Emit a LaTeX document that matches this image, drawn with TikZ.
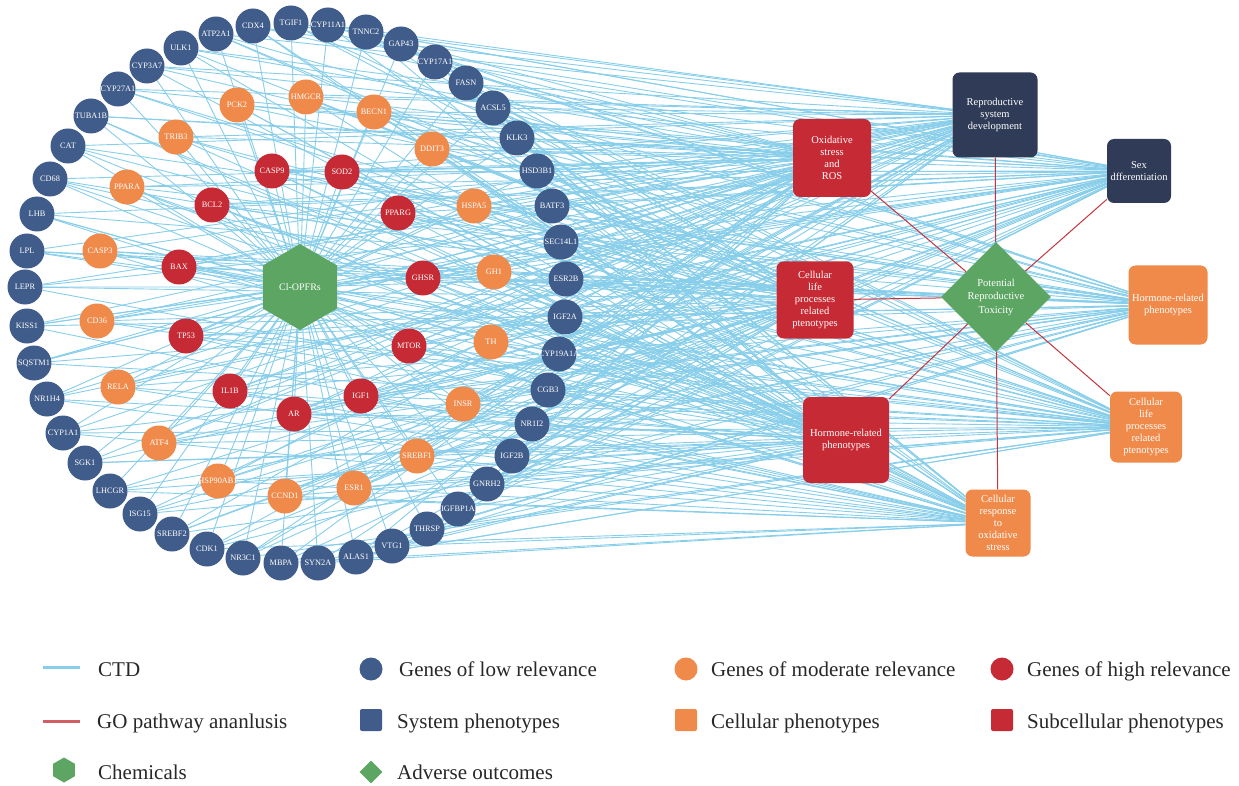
\documentclass[tikz,border=0pt]{standalone}
\usepackage{fontspec}
\setmainfont{Liberation Serif}
\usetikzlibrary{shapes.geometric}

\pgfdeclarelayer{bg}
\pgfsetlayers{bg,main}

\definecolor{lowblue}{RGB}{64,92,138}
\definecolor{modorange}{RGB}{240,138,74}
\definecolor{highred}{RGB}{198,42,52}
\definecolor{chemgreen}{RGB}{92,165,99}
\definecolor{navy}{RGB}{47,59,87}
\definecolor{ctdblue}{RGB}{135,206,235}
\definecolor{gored}{RGB}{200,52,62}
\definecolor{legtextcol}{RGB}{40,40,40}

\tikzset{
  gene/.style={circle, minimum size=35pt, inner sep=0pt, text=white,
    font=\fontsize{8.3}{9}\selectfont},
  lowgene/.style={gene, fill=lowblue},
  modgene/.style={gene, fill=modorange},
  highgene/.style={gene, fill=highred},
  pheno/.style={rounded corners=7pt, inner sep=0pt, text=white, align=center,
    font=\fontsize{10.5}{12.2}\selectfont},
  ctd/.style={draw=ctdblue, line width=0.9pt},
  golink/.style={draw=gored, line width=1pt},
  legtext/.style={anchor=base west, inner sep=0pt, text=legtextcol,
    font=\fontsize{21}{24}\selectfont}
}

% blue CTD links of one gene: name, count, threshold
\newcommand{\ctdlinks}[3]{%
  \begin{pgfonlayer}{bg}
    \draw[ctd] (chem) -- (#1);
    \foreach \p [count=\j] in {ros,rsd,sexd,clpr,hrmo,hrmr,clpo,cros} {
      \pgfmathtruncatemacro{\k}{mod(3*#2+5*\j,8)}
      \ifnum\k<#3 \draw[ctd] (#1) -- (\p);\fi
    }
  \end{pgfonlayer}}

\begin{document}
\begin{tikzpicture}[x=1pt,y=-1pt]
\useasboundingbox (0,0) rectangle (1239,786);
\begin{pgfonlayer}{bg}
\fill[white] (0,0) rectangle (1239,786);
\end{pgfonlayer}

% chemical and outcomes
\node[regular polygon, regular polygon sides=6, shape border rotate=30, fill=chemgreen,
  minimum size=86pt, inner sep=0pt, text=white, font=\fontsize{10}{12}\selectfont]
  (chem) at (300,287) {Cl-OPFRs};
\node[diamond, fill=chemgreen, minimum size=110pt, inner sep=0pt, text=white, align=center,
  font=\fontsize{10.5}{13.5}\selectfont] (tox) at (996,297) {Potential\\Reproductive\\Toxicity};

% phenotypes
\node[pheno, fill=highred, minimum width=78pt, minimum height=78pt] (ros) at (832,158) {Oxidative\\stress\\and\\ROS};
\node[pheno, fill=navy, minimum width=85pt, minimum height=85pt] (rsd) at (995,115) {Reproductive\\system\\development};
\node[pheno, fill=navy, minimum width=64pt, minimum height=64pt] (sexd) at (1139,171) {Sex\\dfferentiation};
\node[pheno, fill=highred, minimum width=77pt, minimum height=77pt] (clpr) at (815,300) {Cellular\\life\\processes\\related\\ptenotypes};
\node[pheno, fill=modorange, minimum width=79pt, minimum height=79pt] (hrmo) at (1168,305) {Hormone-related\\phenotypes};
\node[pheno, fill=highred, minimum width=86pt, minimum height=86pt] (hrmr) at (846,440) {Hormone-related\\phenotypes};
\node[pheno, fill=modorange, minimum width=72pt, minimum height=71pt] (clpo) at (1146,427) {Cellular\\life\\processes\\related\\ptenotypes};
\node[pheno, fill=modorange, minimum width=65pt, minimum height=67pt] (cros) at (998,523) {Cellular\\response\\to\\oxidative\\stress};

% genes of low relevance (outer ring)
\foreach \g/\x/\y [count=\i] in {CDX4/253/26, TGIF1/291/23, CYP11A1/328/25, TNNC2/366/32,
  GAP43/401/44, CYP17A1/435/62, FASN/466/83, ACSL5/493/108, KLK3/517/138, HSD3B1/537/171,
  BATF3/552/206, SEC14L1/561/242, ESR2B/566/279, IGF2A/565/317, CYP19A1A/559/354,
  CGB3/548/390, NR1I2/532/424, IGF2B/512/456, GNRH2/487/484, IGFBP1A/458/509,
  THRSP/427/529, VTG1/392/546, ALAS1/356/557, SYN2A/318/563, MBPA/281/563,
  NR3C1/243/558, CDK1/207/549, SREBF2/172/534, ISG15/140/514, LHCGR/110/491,
  SGK1/85/463, CYP1A1/63/433, NR1H4/47/399, SQSTM1/34/363, KISS1/27/326, LEPR/25/287,
  LPL/27/251, LHB/37/214, CD68/50/179, CAT/68/146, TUBA1B/91/116, CYP27A1/118/89,
  CYP3A7/147/66, ULK1/181/48, ATP2A1/216/34} {
  \node[lowgene] (\g) at (\x,\y) {\makebox[0pt]{\g}};
  \ctdlinks{\g}{\i}{4}
}

% genes of moderate relevance
\foreach \g/\x/\y [count=\i] in {PCK2/237/105, HMGCR/306/97, BECN1/374/112, DDIT3/432/149,
  HSPA5/474/206, GH1/494/272, TH/491/342, INSR/463/404, SREBF1/417/456, ESR1/354/488,
  CCND1/285/496, HSP90AB1/218/481, ATF4/159/443, RELA/118/387, CD36/97/321,
  CASP3/100/251, PPARA/127/187, TRIB3/176/137} {
  \node[modgene] (\g) at (\x,\y) {\makebox[0pt]{\g}};
  \ctdlinks{\g}{\i}{5}
}

% genes of high relevance
\foreach \g/\x/\y [count=\i] in {CASP9/272/171, SOD2/342/172, PPARG/398/213, BCL2/212/205,
  BAX/179/267, GHSR/423/278, MTOR/409/346, TP53/186/336, IL1B/230/391, AR/294/414,
  IGF1/361/396} {
  \node[highgene] (\g) at (\x,\y) {\makebox[0pt]{\g}};
  \ctdlinks{\g}{\i}{6}
}

% GO pathway links
\begin{pgfonlayer}{bg}
\foreach \p in {ros,rsd,sexd,clpr,hrmr,clpo,cros}
  \draw[golink] (tox) -- (\p);
\end{pgfonlayer}

% legend
\coordinate (ctda) at (43,667);
\coordinate (ctdb) at (80,667);
\coordinate (goa) at (43,721);
\coordinate (gob) at (80,721);
\draw[ctdblue, line width=3pt] (ctda) -- (ctdb);
\draw[gored!80!white, line width=3pt] (goa) -- (gob);
\node[regular polygon, regular polygon sides=6, shape border rotate=30, fill=chemgreen,
  minimum size=25pt, inner sep=0pt] (lgchem) at (64,770) {};
\node[circle, fill=lowblue, minimum size=23pt, inner sep=0pt] (lglow) at (371,669) {};
\node[rounded corners=2pt, fill=lowblue, minimum size=22pt, inner sep=0pt] (lgsys) at (371,720) {};
\node[diamond, fill=chemgreen, minimum width=23pt, minimum height=23pt, inner sep=0pt] (lgtox) at (371,772) {};
\node[circle, fill=modorange, minimum size=23pt, inner sep=0pt] (lgmod) at (686,669) {};
\node[rounded corners=2pt, fill=modorange, minimum size=22pt, inner sep=0pt] (lgcell) at (686,720) {};
\node[circle, fill=highred, minimum size=23pt, inner sep=0pt] (lghigh) at (1002,669) {};
\node[rounded corners=2pt, fill=highred, minimum size=22pt, inner sep=0pt] (lgsub) at (1002,720) {};

\node[legtext] (tctd) at (98,676) {CTD};
\node[legtext] (tgo) at (97,728) {GO pathway ananlusis};
\node[legtext] (tchem) at (98,779) {Chemicals};
\node[legtext] (tlow) at (399,676) {Genes of low relevance};
\node[legtext] (tsys) at (397,728) {System phenotypes};
\node[legtext] (ttox) at (397,779) {Adverse outcomes};
\node[legtext] (tmod) at (711,676) {Genes of moderate relevance};
\node[legtext] (tcell) at (711,728) {Cellular phenotypes};
\node[legtext] (thigh) at (1027,676) {Genes of high relevance};
\node[legtext] (tsub) at (1027,728) {Subcellular phenotypes};
\end{tikzpicture}
\end{document}
